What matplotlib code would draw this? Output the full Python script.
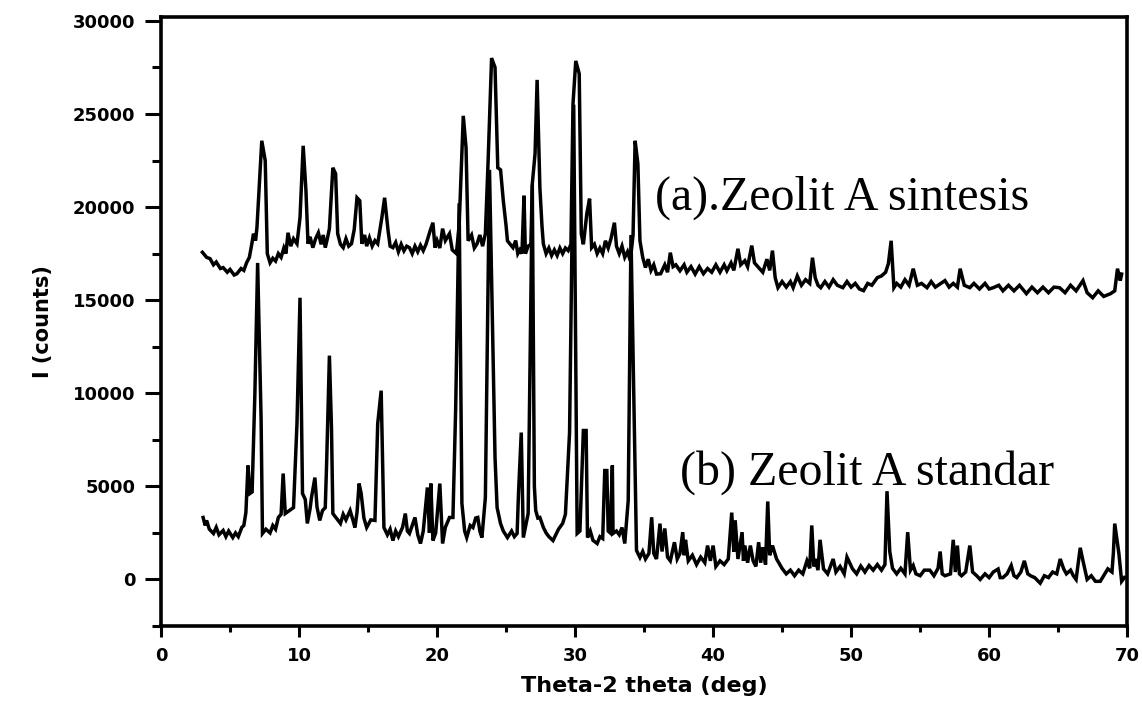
import matplotlib
matplotlib.use("Agg")
import matplotlib.pyplot as plt
from matplotlib.ticker import MultipleLocator

# ---- data (2-theta in deg, intensity in counts) ----
a_tt = [3.0, 3.3, 3.55, 3.8, 4.0, 4.3, 4.5, 4.8, 5.0, 5.3, 5.5, 5.8, 6.0, 6.2, 6.4, 6.55,
        6.7, 6.85, 6.95, 7.3, 7.55, 7.7, 7.9, 8.1, 8.3, 8.5, 8.7, 8.9, 9.05, 9.2, 9.4,
        9.6, 9.85, 10.07, 10.3, 10.5, 10.65, 10.8, 11.0, 11.2, 11.4, 11.6, 11.75, 11.9,
        12.05, 12.2, 12.45, 12.65, 12.8, 13.0, 13.2, 13.4, 13.6, 13.8, 14.0, 14.2, 14.4,
        14.55, 14.75, 14.9, 15.1, 15.3, 15.5, 15.7, 16.0, 16.2, 16.45, 16.6, 16.8, 17.0,
        17.2, 17.4, 17.6, 17.8, 18.0, 18.2, 18.4, 18.6, 18.8, 19.0, 19.2, 19.5, 19.7,
        19.85, 20.0, 20.2, 20.4, 20.6, 20.9, 21.1, 21.4, 21.6, 21.9, 22.1, 22.25, 22.5,
        22.7, 22.9, 23.1, 23.3, 23.5, 23.7, 23.95, 24.2, 24.4, 24.6, 24.8, 25.0, 25.1,
        25.3, 25.5, 25.7, 25.85, 26.0, 26.15, 26.3, 26.4, 26.6, 26.8, 26.9, 27.1, 27.25,
        27.45, 27.6, 27.7, 27.9, 28.1, 28.3, 28.5, 28.7, 28.9, 29.1, 29.3, 29.5, 29.7,
        29.85, 30.05, 30.3, 30.45, 30.6, 30.85, 31.05, 31.2, 31.4, 31.6, 31.8, 32.0,
        32.2, 32.4, 32.6, 32.85, 33.0, 33.2, 33.4, 33.6, 33.8, 34.0, 34.2, 34.35, 34.55,
        34.7, 34.9, 35.1, 35.3, 35.5, 35.7, 35.9, 36.2, 36.5, 36.7, 36.9, 37.1, 37.3,
        37.6, 37.9, 38.1, 38.4, 38.7, 39.0, 39.3, 39.6, 39.9, 40.2, 40.5, 40.8, 41.0,
        41.3, 41.5, 41.8, 42.0, 42.3, 42.5, 42.8, 43.0, 43.3, 43.6, 43.9, 44.1, 44.3,
        44.5, 44.7, 45.0, 45.3, 45.6, 45.8, 46.1, 46.4, 46.7, 47.0, 47.2, 47.4, 47.6,
        47.8, 48.1, 48.4, 48.7, 49.0, 49.4, 49.7, 50.0, 50.3, 50.6, 50.9, 51.2, 51.5,
        51.9, 52.2, 52.5, 52.7, 52.9, 53.1, 53.3, 53.6, 53.9, 54.2, 54.5, 54.8, 55.1,
        55.5, 55.8, 56.1, 56.5, 56.8, 57.1, 57.4, 57.7, 57.9, 58.2, 58.6, 58.9, 59.3,
        59.7, 60.0, 60.3, 60.7, 61.0, 61.4, 61.8, 62.2, 62.7, 63.1, 63.5, 63.9, 64.3,
        64.7, 65.1, 65.5, 65.9, 66.3, 66.8, 67.1, 67.5, 67.9, 68.3, 68.8, 69.1, 69.3,
        69.5, 69.6]
a_int = [17570, 17300, 17230, 16900, 17050, 16700, 16750, 16500, 16650, 16350, 16420,
         16700, 16600, 17010, 17300, 17900, 18570, 18200, 18900, 23560, 22490, 17500,
         17010, 17250, 17100, 17500, 17300, 17800, 17500, 18620, 17900, 18300, 18030,
         19430, 23290, 20880, 18030, 18400, 17820, 18300, 18620, 18000, 18500, 17820,
         18300, 18840, 22110, 21790, 18570, 18000, 17820, 18300, 17900, 18030, 18800,
         20500, 20340, 18030, 18500, 17900, 18350, 17900, 18200, 18030, 19430, 20500,
         18730, 17900, 17820, 18100, 17600, 18000, 17650, 17900, 17820, 17500, 17900,
         17600, 17950, 17660, 18000, 18730, 19160, 17820, 18200, 17800, 18840, 18200,
         18570, 17700, 17500, 19000, 24900, 23190, 18190, 18500, 17800, 18030, 18500,
         17900, 18570, 22490, 28000, 27500, 22110, 22000, 20340, 19000, 18190, 18000,
         17820, 18200, 17500, 17700, 17500, 20610, 17500, 17900, 18000, 21250, 22860,
         26830, 21040, 19000, 18030, 17500, 17800, 17400, 17700, 17400, 17800, 17500,
         17800, 17660, 18000, 25550, 27850, 27160, 18570, 18000, 19640, 20450, 17820,
         18000, 17500, 17800, 17500, 18190, 17800, 18300, 19160, 17900, 17500, 17900,
         17300, 17600, 17120, 18500, 23560, 22330, 18190, 17300, 16750, 17200, 16600,
         16900, 16400, 16420, 16900, 16500, 17550, 16800, 16900, 16580, 16900, 16500,
         16800, 16400, 16800, 16420, 16700, 16500, 16900, 16500, 16900, 16580, 17000,
         16600, 17760, 16900, 17120, 16800, 17930, 17000, 16750, 16500, 17200, 16600,
         17660, 16200, 15670, 16000, 15700, 16000, 15670, 16300, 15800, 16100, 15900,
         17280, 16200, 15800, 15670, 16000, 15700, 16100, 15800, 15670, 16000, 15700,
         15900, 15600, 15510, 15900, 15800, 16210, 16300, 16500, 16960, 18190, 15670,
         15900, 15700, 16100, 15800, 16690, 15800, 15900, 15670, 16000, 15700, 15900,
         16050, 15700, 15900, 15700, 16690, 15800, 15670, 15900, 15600, 15900, 15600,
         15670, 15800, 15500, 15800, 15500, 15800, 15350, 15700, 15400, 15700, 15400,
         15700, 15670, 15400, 15800, 15500, 16050, 15400, 15130, 15500, 15200, 15350,
         15500, 16690, 16050, 16400]

# (2-theta, counts) pairs for the standard pattern
b_points = [
    (3.05, 3330), (3.2, 2900), (3.3, 3170), (3.5, 2700), (3.8, 2470), (4.0, 2800),
    (4.2, 2400), (4.5, 2630), (4.7, 2300), (4.9, 2600), (5.2, 2250), (5.4, 2500),
    (5.6, 2300), (5.85, 2790), (6.0, 2900), (6.15, 3600), (6.3, 6120), (6.45, 4620),
    (6.6, 4700), (6.8, 9980), (7.0, 17000), (7.25, 8640), (7.35, 2470), (7.6, 2700),
    (7.9, 2500), (8.1, 2900), (8.3, 2700), (8.5, 3330), (8.7, 3500), (8.85, 5690),
    (9.0, 3540), (9.3, 3700), (9.6, 3860), (9.85, 8370), (10.07, 15130), (10.25, 4620),
    (10.45, 4300), (10.6, 3010), (10.8, 3800), (10.9, 4400), (11.15, 5470), (11.3, 3900),
    (11.5, 3170), (11.7, 3700), (11.9, 3860), (12.0, 6280), (12.2, 12020), (12.35, 8160),
    (12.45, 3540), (12.7, 3300), (13.0, 3010), (13.2, 3500), (13.4, 3200), (13.7, 3700),
    (13.9, 3200), (14.05, 2790), (14.2, 3600), (14.35, 5150), (14.5, 4620), (14.7, 3300),
    (14.9, 2790), (15.2, 3200), (15.5, 3170), (15.7, 8370), (15.95, 10140), (16.15, 2790),
    (16.4, 2400), (16.6, 2700), (16.8, 2090), (17.0, 2600), (17.2, 2300), (17.5, 2800),
    (17.7, 3540), (17.85, 2600), (18.0, 2470), (18.2, 2900), (18.4, 3330), (18.6, 2400),
    (18.8, 1930), (19.0, 2600), (19.3, 4940), (19.45, 2500), (19.55, 5150), (19.7, 2090),
    (19.9, 2500), (20.2, 5150), (20.4, 1930), (20.6, 2800), (20.9, 3330), (21.15, 3330),
    (21.35, 9230), (21.6, 20200), (21.8, 4080), (22.0, 2600), (22.15, 2250), (22.4, 2900),
    (22.6, 2790), (22.8, 3300), (22.95, 3330), (23.1, 2600), (23.25, 2250), (23.5, 4400),
    (23.8, 22000), (24.2, 6550), (24.35, 3860), (24.6, 3000), (24.8, 2600), (25.1, 2250),
    (25.4, 2600), (25.6, 2300), (25.8, 2470), (25.9, 4620), (26.1, 7890), (26.25, 2250),
    (26.45, 3000), (26.6, 3540), (26.9, 21200), (27.05, 5000), (27.15, 3700), (27.3, 3300),
    (27.45, 3330), (27.7, 2800), (27.9, 2500), (28.1, 2300), (28.4, 2090), (28.6, 2400),
    (28.8, 2700), (29.1, 3010), (29.3, 3500), (29.6, 7890), (29.9, 25500), (30.15, 2470),
    (30.35, 2600), (30.6, 8000), (30.8, 8000), (30.9, 2250), (31.1, 2600), (31.3, 2100),
    (31.6, 1930), (31.8, 2300), (32.0, 2200), (32.15, 5850), (32.3, 5850), (32.4, 2600),
    (32.55, 2500), (32.7, 6120), (32.75, 2470), (33.0, 2600), (33.2, 2400), (33.4, 2790),
    (33.6, 1930), (33.85, 4240), (34.05, 18500), (34.3, 7890), (34.45, 1560), (34.7, 1180),
    (34.9, 1500), (35.1, 1100), (35.35, 1400), (35.55, 3340), (35.7, 1400), (35.9, 1100),
    (36.15, 3000), (36.3, 1500), (36.5, 2740), (36.7, 1200), (36.9, 1000), (37.2, 2000),
    (37.4, 1100), (37.6, 1400), (37.8, 2540), (37.9, 1300), (38.0, 2130), (38.2, 1000),
    (38.5, 1300), (38.8, 800), (39.1, 1200), (39.4, 900), (39.6, 1820), (39.8, 1000),
    (40.0, 1820), (40.2, 700), (40.5, 1000), (40.8, 800), (41.1, 1100), (41.35, 3590),
    (41.5, 1500), (41.6, 3180), (41.8, 1100), (42.1, 2540), (42.2, 1000), (42.3, 1820),
    (42.5, 900), (42.7, 1820), (42.9, 1000), (43.1, 700), (43.3, 2000), (43.45, 900),
    (43.6, 1730), (43.8, 800), (43.96, 4190), (44.1, 1300), (44.3, 1820), (44.6, 1100),
    (45.0, 590), (45.3, 300), (45.6, 500), (45.9, 200), (46.2, 500), (46.5, 300),
    (46.8, 1000), (47.0, 600), (47.15, 2900), (47.3, 700), (47.4, 1100), (47.6, 500),
    (47.75, 2130), (48.0, 570), (48.3, 300), (48.7, 1100), (48.9, 400), (49.2, 700),
    (49.5, 300), (49.7, 1200), (50.1, 570), (50.4, 300), (50.7, 720), (51.0, 400),
    (51.3, 750), (51.6, 500), (51.9, 800), (52.2, 500), (52.45, 800), (52.6, 4740),
    (52.8, 1500), (53.0, 600), (53.3, 300), (53.6, 600), (53.9, 300), (54.1, 2540),
    (54.3, 500), (54.5, 750), (54.7, 300), (55.0, 200), (55.3, 500), (55.7, 500),
    (56.0, 200), (56.3, 600), (56.45, 1500), (56.6, 300), (56.8, 200), (57.2, 300),
    (57.4, 2130), (57.55, 400), (57.7, 1820), (57.85, 300), (58.0, 200), (58.3, 400),
    (58.6, 1820), (58.8, 400), (59.1, 200), (59.35, 0), (59.7, 300), (60.0, 100),
    (60.3, 400), (60.65, 560), (60.8, 100), (61.0, 100), (61.3, 300), (61.6, 750),
    (61.8, 200), (62.0, 100), (62.3, 400), (62.55, 1000), (62.8, 300), (63.0, 200),
    (63.3, 100), (63.7, -200), (64.0, 200), (64.3, 100), (64.6, 400), (64.9, 300),
    (65.15, 1100), (65.4, 570), (65.6, 300), (65.9, 500), (66.1, 200), (66.3, 0),
    (66.6, 1700), (66.8, 1000), (67.1, 0), (67.4, 200), (67.7, -100), (68.05, -100),
    (68.3, 200), (68.6, 570), (68.9, 400), (69.0, 1400), (69.1, 3000), (69.4, 1400),
    (69.6, -100), (69.8, 100),
]
b_tt = [p[0] for p in b_points]
b_int = [p[1] for p in b_points]

a_label = "(a).Zeolit A sintesis"
b_label = "(b) Zeolit A standar"
x_ticks = [0, 10, 20, 30, 40, 50, 60, 70]
y_ticks = [0, 5000, 10000, 15000, 20000, 25000, 30000]

fig = plt.figure(figsize=(11.42, 7.08), dpi=100)
ax = fig.add_axes([0.141, 0.1158, 0.846, 0.860])

ax.plot(a_tt, a_int, color="black", lw=2.5, solid_joinstyle="miter")
ax.plot(b_tt, b_int, color="black", lw=2.5, solid_joinstyle="miter")

ax.set_xlim(0, 70)
ax.set_ylim(-2500, 30200)
ax.set_xticks(x_ticks)
ax.set_yticks(y_ticks)
ax.xaxis.set_minor_locator(MultipleLocator(5))
ax.yaxis.set_minor_locator(MultipleLocator(2500))

for s in ax.spines.values():
    s.set_linewidth(2.6)

ax.tick_params(axis="y", which="major", direction="out", length=11.5, width=2.2, pad=7,
               labelsize=13)
ax.tick_params(axis="y", which="minor", direction="out", length=6.5, width=2.2)
ax.tick_params(axis="x", which="major", direction="out", length=8, width=2.2, pad=7,
               labelsize=13)
ax.tick_params(axis="x", which="minor", direction="out", length=4.5, width=2.2)
for lab in ax.get_xticklabels() + ax.get_yticklabels():
    lab.set_fontweight("bold")

ax.set_xlabel("Theta-2 theta (deg)", fontsize=16, fontweight="bold", labelpad=8)
ax.set_ylabel("I (counts)", fontsize=15, fontweight="bold", labelpad=14)

ax.text(35.8, 20500, a_label, family="Liberation Serif", fontsize=34.5, ha="left",
        va="center", color="black")
ax.text(37.6, 5740, b_label, family="Liberation Serif", fontsize=34.5, ha="left",
        va="center", color="black")

fig.savefig("out.png", dpi=100)
